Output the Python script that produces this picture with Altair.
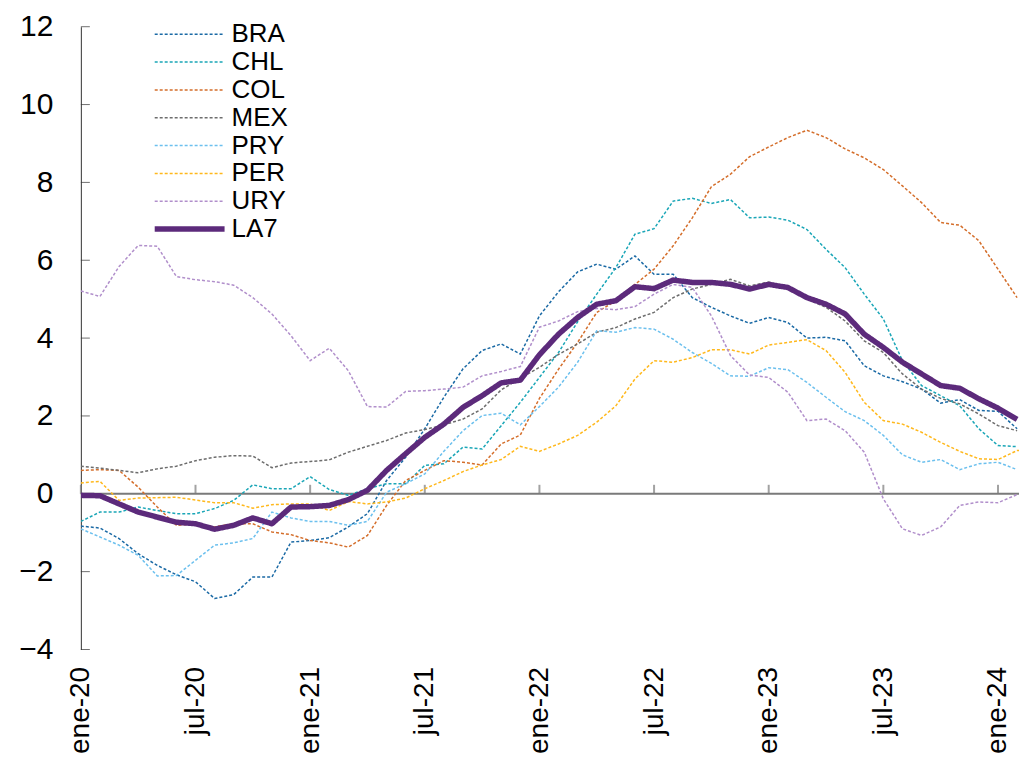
import altair as alt
import pandas as pd

SERIES = ["BRA", "CHL", "COL", "MEX", "PRY", "PER", "URY", "LA7"]
COLORS = ["#1b6aa5", "#1aa6b7", "#d46e2b", "#6d6d6d", "#6cc0ee", "#ffb81c", "#b18fcb", "#5c2a7b"]
DASHES = [[3, 2]] * 7 + [[1, 0]]
WIDTHS = [1.5] * 7 + [5.5]

TICK_MONTHS = [0, 6, 12, 18, 24, 30, 36, 42, 48]
TICK_LABELS = ["ene-20", "jul-20", "ene-21", "jul-21", "ene-22", "jul-22", "ene-23", "jul-23", "ene-24"]
Y_TICKS = [-4, -2, 0, 2, 4, 6, 8, 10, 12]

BRA = [-0.83, -0.88, -1.15, -1.54, -1.84, -2.08, -2.26, -2.69, -2.59, -2.14, -2.14, -1.24, -1.20, -1.13,
       -0.85, -0.51, 0.34, 0.94, 1.67, 2.48, 3.21, 3.68, 3.85, 3.59, 4.57, 5.19, 5.70, 5.90, 5.77, 6.11,
       5.64, 5.64, 5.04, 4.79, 4.57, 4.38, 4.53, 4.40, 4.00, 4.02, 3.93, 3.29, 3.03, 2.88, 2.69, 2.33,
       2.42, 2.14, 2.12, 1.67]
CHL = [-0.71, -0.47, -0.47, -0.34, -0.43, -0.51, -0.51, -0.38, -0.17, 0.23, 0.13, 0.13, 0.44, 0.11,
       -0.04, 0.13, 0.26, 0.26, 0.73, 0.77, 1.20, 1.15, 1.75, 2.35, 2.99, 3.63, 4.42, 5.13, 5.81, 6.67,
       6.81, 7.52, 7.59, 7.46, 7.56, 7.09, 7.11, 7.03, 6.79, 6.28, 5.81, 5.13, 4.49, 3.42, 2.78, 2.52,
       2.26, 1.67, 1.24, 1.21]
COL = [0.60, 0.62, 0.60, 0.17, -0.34, -0.81, -0.77, -0.85, -0.77, -0.77, -0.98, -1.05, -1.20, -1.26,
       -1.37, -1.07, -0.30, 0.34, 0.60, 0.85, 0.81, 0.74, 1.28, 1.51, 2.45, 3.20, 3.89, 4.66, 4.96, 5.38,
       5.77, 6.37, 7.09, 7.89, 8.21, 8.66, 8.91, 9.15, 9.34, 9.15, 8.86, 8.63, 8.33, 7.91, 7.48, 6.97,
       6.90, 6.50, 5.77, 5.04]
MEX = [0.71, 0.66, 0.60, 0.54, 0.64, 0.71, 0.85, 0.94, 0.98, 0.97, 0.67, 0.79, 0.83, 0.87, 1.07, 1.22,
       1.37, 1.56, 1.65, 1.77, 1.92, 2.18, 2.67, 2.97, 3.25, 3.58, 3.85, 4.15, 4.27, 4.49, 4.66, 5.04,
       5.26, 5.38, 5.51, 5.34, 5.44, 5.28, 5.00, 4.79, 4.44, 3.93, 3.63, 3.08, 2.69, 2.45, 2.31, 2.05,
       1.75, 1.62]
PRY = [-0.90, -1.11, -1.32, -1.58, -2.11, -2.10, -1.71, -1.32, -1.26, -1.15, -0.47, -0.62, -0.71, -0.71,
       -0.81, -0.71, 0.04, 0.26, 0.51, 1.09, 1.62, 2.01, 2.07, 1.77, 2.24, 2.74, 3.38, 4.19, 4.15, 4.27,
       4.23, 3.97, 3.63, 3.35, 3.03, 3.02, 3.24, 3.19, 2.86, 2.48, 2.11, 1.88, 1.50, 1.00, 0.81, 0.88,
       0.62, 0.77, 0.81, 0.62]
PER = [0.28, 0.32, -0.17, -0.11, -0.10, -0.09, -0.16, -0.23, -0.23, -0.37, -0.28, -0.26, -0.26, -0.43,
       -0.20, -0.26, -0.21, -0.11, 0.13, 0.34, 0.57, 0.74, 0.88, 1.22, 1.09, 1.28, 1.50, 1.84, 2.26, 2.95,
       3.42, 3.38, 3.50, 3.70, 3.70, 3.59, 3.82, 3.89, 3.96, 3.68, 3.12, 2.35, 1.88, 1.79, 1.58, 1.32,
       1.09, 0.90, 0.88, 1.11, 1.12]
URY = [5.21, 5.07, 5.84, 6.38, 6.36, 5.58, 5.50, 5.45, 5.36, 5.04, 4.62, 4.06, 3.42, 3.74, 3.16, 2.24,
       2.23, 2.63, 2.65, 2.69, 2.74, 3.03, 3.14, 3.27, 4.28, 4.44, 4.68, 4.76, 4.73, 4.81, 5.13, 5.38,
       5.30, 4.57, 3.55, 3.05, 2.99, 2.61, 1.88, 1.92, 1.62, 1.07, -0.13, -0.90, -1.07, -0.85, -0.30,
       -0.21, -0.23, -0.02]
LA7 = [-0.04, -0.05, -0.26, -0.47, -0.60, -0.73, -0.77, -0.91, -0.81, -0.62, -0.77, -0.34, -0.33, -0.30,
       -0.15, 0.09, 0.60, 1.03, 1.45, 1.79, 2.22, 2.52, 2.85, 2.92, 3.57, 4.10, 4.53, 4.87, 4.96, 5.32,
       5.27, 5.49, 5.43, 5.43, 5.38, 5.26, 5.38, 5.30, 5.04, 4.87, 4.62, 4.10, 3.76, 3.38, 3.08, 2.78,
       2.71, 2.44, 2.20, 1.91]

VALUES = {"BRA": BRA, "CHL": CHL, "COL": COL, "MEX": MEX, "PRY": PRY, "PER": PER, "URY": URY, "LA7": LA7}

rows = []
for name in SERIES:
    for i, v in enumerate(VALUES[name]):
        rows.append({"m": i, "v": v, "s": name})
df = pd.DataFrame(rows)

FONT = "Liberation Sans"
label_expr = "[" + ",".join("'%s'" % t for t in TICK_LABELS) + "][round(datum.value/6)]"

x_scale = alt.Scale(domain=[0, 49.1], nice=False, zero=False)
y_scale = alt.Scale(domain=[-4, 12], nice=False, zero=False)

x_enc = alt.X("m:Q", scale=x_scale,
              axis=alt.Axis(values=TICK_MONTHS, labelExpr=label_expr, labelAngle=-90, domain=False,
                            ticks=False, grid=False, labelFontSize=28, labelFont=FONT,
                            labelColor="black", labelPadding=17, title=None, labelFlush=False,
                            labelOverlap=False))
y_enc = alt.Y("v:Q", scale=y_scale,
              axis=alt.Axis(values=Y_TICKS, domain=True, domainColor="#333333", domainWidth=1,
                            ticks=False, grid=False, labelFontSize=30, labelFont=FONT,
                            labelColor="black", labelPadding=28, title=None))

legend = alt.Legend(orient="none", legendX=71, legendY=-5, title=None, labelFontSize=26,
                    labelFont=FONT, labelColor="black", symbolType="stroke", symbolSize=4900,
                    labelOffset=4, rowPadding=0.9, padding=0, clipHeight=25, labelLimit=200)

base = alt.Chart(df)
line_enc = dict(
    x=x_enc,
    y=y_enc,
    color=alt.Color("s:N", scale=alt.Scale(domain=SERIES, range=COLORS), legend=legend),
    strokeDash=alt.StrokeDash("s:N", scale=alt.Scale(domain=SERIES, range=DASHES), legend=legend),
    strokeWidth=alt.StrokeWidth("s:N", scale=alt.Scale(type="ordinal", domain=SERIES, range=WIDTHS),
                                legend=legend),
)
countries = base.transform_filter(alt.datum.s != "LA7").mark_line(clip=True).encode(**line_enc)
la7 = base.transform_filter(alt.datum.s == "LA7").mark_line(clip=True, strokeJoin="round").encode(**line_enc)

zero_line = alt.Chart(pd.DataFrame({"v": [0]})).mark_rule(color="#7a7a7a", strokeWidth=2).encode(
    y=alt.Y("v:Q", scale=y_scale))
x_ticks = alt.Chart(pd.DataFrame({"m": TICK_MONTHS, "v": [0] * len(TICK_MONTHS)})).mark_tick(
    orient="vertical", size=9, thickness=2, color="#7a7a7a", yOffset=-4.5).encode(
    x=alt.X("m:Q", scale=x_scale), y=alt.Y("v:Q", scale=y_scale))
y_ticks = alt.Chart(pd.DataFrame({"v": Y_TICKS, "m": [0] * len(Y_TICKS)})).mark_tick(
    orient="horizontal", size=9, thickness=1, color="#333333", xOffset=4.5).encode(
    x=alt.X("m:Q", scale=x_scale), y=alt.Y("v:Q", scale=y_scale))

chart = alt.layer(zero_line, x_ticks, y_ticks, countries, la7).properties(
    width=940, height=624, padding={"left": 10, "top": 3, "right": 2, "bottom": 5},
    background="white"
).configure_view(stroke=None)

chart.save("out.html", embed_options={"renderer": "svg", "actions": False})
